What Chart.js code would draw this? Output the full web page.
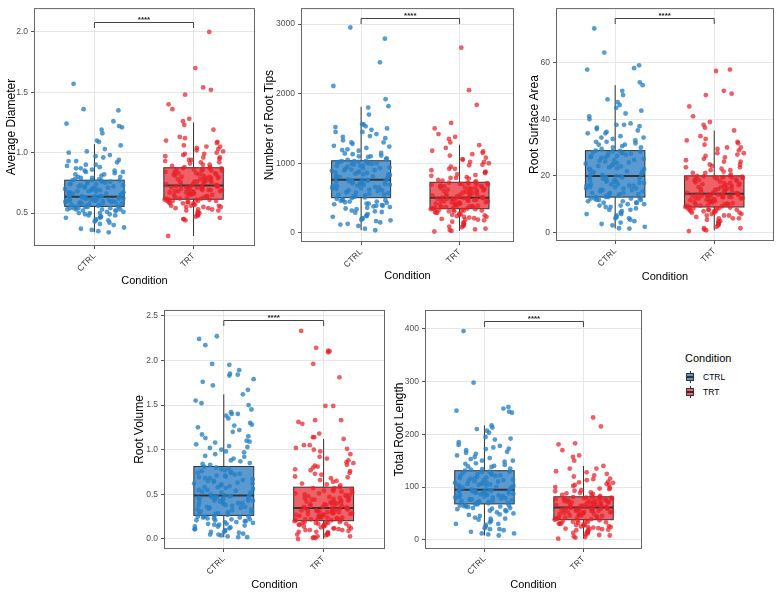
<!DOCTYPE html>
<html>
<head>
<meta charset="utf-8">
<script src="https://cdn.jsdelivr.net/npm/chart.js@4.4.0/dist/chart.umd.min.js"></script>
<style>
  body { margin: 0; background: #fff; width: 779px; height: 598px; position: relative; overflow: hidden;
         font-family: 'Liberation Sans', Arial, sans-serif; }
  canvas { position: absolute; }
  #legend { position: absolute; left: 684px; top: 350px; width: 90px; height: 60px; }
  #legend .ltitle { position: absolute; left: 1px; top: 0; font-size: 11px; line-height: 16px; color: #000; }
  #legend .row { position: absolute; left: 2px; height: 12px; font-size: 8.5px; line-height: 12px; color: #000; }
  #legend .row span.txt { position: absolute; left: 17px; top: 0; white-space: nowrap; }
  .key { position: absolute; left: 0; top: 0; width: 8px; height: 12px; }
  .key .w { position: absolute; left: 3.5px; top: 0; width: 1px; height: 12px; background: #333; }
  .key .b { position: absolute; left: 0; top: 2px; width: 6px; height: 6px; border: 1px solid #333; }
  .key .m { position: absolute; left: 0; top: 5px; width: 8px; height: 1.5px; background: #333; }
</style>
</head>
<body>
<canvas id="p1"></canvas>
<canvas id="p2"></canvas>
<canvas id="p3"></canvas>
<canvas id="p4"></canvas>
<canvas id="p5"></canvas>
<div id="legend">
  <div class="ltitle">Condition</div>
  <div class="row" style="top:21px"><div class="key"><div class="w"></div><div class="b" style="background:#5b9ad0"></div><div class="m"></div></div><span class="txt">CTRL</span></div>
  <div class="row" style="top:36px"><div class="key"><div class="w"></div><div class="b" style="background:#ef6167"></div><div class="m"></div></div><span class="txt">TRT</span></div>
</div>
<script>
// Groups
const CATEGORIES = ['CTRL', 'TRT'];

// Average Diameter
const avgDiamCtrl = [0.34,0.35,0.36,0.37,0.40,0.42,0.43,0.44,0.45,0.46,0.46,0.47,0.48,0.48,0.49,0.50,0.50,0.51,0.51,0.52,0.52,0.53,0.53,0.53,0.54,0.54,0.54,0.55,0.55,0.55,
  0.56,0.56,0.57,0.57,0.57,0.58,0.58,0.58,0.59,0.59,0.59,0.60,0.60,0.60,0.60,0.61,0.61,0.61,0.62,0.62,0.62,0.62,0.63,0.63,0.63,0.63,0.63,0.64,0.64,0.64,
  0.64,0.65,0.65,0.66,0.66,0.67,0.67,0.68,0.68,0.69,0.69,0.70,0.70,0.71,0.71,0.72,0.72,0.73,0.73,0.74,0.74,0.75,0.75,0.76,0.76,0.77,0.77,0.77,0.78,0.78,
  0.79,0.80,0.81,0.82,0.83,0.84,0.85,0.86,0.87,0.88,0.89,0.90,0.92,0.93,0.94,0.96,0.98,1.00,1.03,1.06,
  1.09,1.10,1.16,1.19,1.21,1.22,1.24,1.26,1.35,1.36,1.57,
  0.38,0.41,0.44,0.47,0.49,0.50,0.52,0.53,0.54,0.55,0.56,0.57,0.58,0.59,0.60,0.61,0.62,0.62,0.63,0.64,
  0.65,0.66,0.67,0.68,0.70,0.71,0.72,0.74,0.75,0.77,0.79,0.80,0.82,0.84,0.85,0.87,0.90,0.93,0.97,1.01];
const avgDiamTrt = [0.31,0.44,0.45,0.46,0.47,0.48,0.49,0.50,0.51,0.52,0.52,0.53,0.54,0.54,0.55,0.55,0.56,0.56,0.57,0.57,0.58,0.58,0.59,0.59,0.60,0.60,0.60,0.61,0.61,0.61,
  0.62,0.62,0.63,0.63,0.64,0.64,0.65,0.65,0.66,0.66,0.66,0.67,0.67,0.68,0.68,0.68,0.69,0.69,0.69,0.70,0.70,0.70,0.71,0.71,0.71,0.72,0.72,0.72,0.72,0.73,
  0.73,0.74,0.74,0.75,0.75,0.76,0.76,0.77,0.77,0.78,0.78,0.79,0.79,0.80,0.80,0.81,0.81,0.82,0.82,0.83,0.83,0.84,0.84,0.85,0.85,0.86,0.86,0.87,0.87,0.87,
  0.88,0.89,0.90,0.91,0.92,0.93,0.94,0.95,0.96,0.97,0.98,0.99,1.00,1.01,1.03,1.04,1.05,1.06,1.08,1.10,1.13,1.19,1.23,
  1.26,1.28,1.36,1.40,1.48,1.52,1.54,1.70,2.00,
  0.45,0.48,0.50,0.53,0.55,0.56,0.58,0.59,0.60,0.61,0.62,0.63,0.65,0.66,0.67,0.68,0.69,0.70,0.71,0.72,
  0.74,0.75,0.76,0.78,0.79,0.80,0.82,0.83,0.85,0.86,0.88,0.90,0.92,0.94,0.96,0.99,1.02,1.05,1.09,1.12];
// [lower whisker, Q1, median, Q3, upper whisker]
const avgDiamStats = [[0.34, 0.555, 0.635, 0.772, 1.07], [0.31, 0.614, 0.727, 0.875, 1.25]];
const avgDiamTicks = [0.5, 1.0, 1.5, 2.0];
const avgDiamTickLabels = ['0.5', '1.0', '1.5', '2.0'];
const avgDiamRange = [0.227, 2.197];
const avgDiamBracket = 2.083;

// Number of Root Tips
const tipsCtrl = [38,60,100,130,150,170,190,200,210,230,250,270,290,300,320,340,350,370,380,390,400,410,420,430,440,450,460,470,480,500,
  510,520,530,540,550,560,570,580,590,600,610,620,630,640,650,660,670,680,690,700,700,710,720,730,740,740,750,750,760,760,
  770,780,790,800,810,820,830,840,850,860,870,880,890,900,910,920,930,940,950,960,970,980,990,1000,1000,1010,1020,1020,1030,1030,
  1050,1070,1090,1100,1110,1130,1150,1180,1200,1220,1250,1280,1300,1330,1360,1390,1420,1450,1480,1500,1530,1560,1700,1800,
  1820,1920,2110,2450,2790,2950,
  120,180,240,310,360,390,420,450,470,490,520,550,580,610,640,670,690,710,730,750,
  780,810,840,870,900,930,960,990,1010,1030,1060,1100,1140,1190,1240,1300,1380,1450,1520,1560];
const tipsTrt = [20,28,40,60,80,100,110,130,150,160,180,190,200,210,220,230,240,250,260,270,280,290,300,310,320,320,330,330,340,340,
  350,355,360,370,375,380,390,395,400,410,415,420,430,435,440,450,455,460,470,475,480,485,490,490,495,500,500,505,505,506,
  510,520,530,540,545,550,560,570,580,590,600,605,610,620,630,640,645,650,660,670,675,680,690,695,700,705,710,715,720,725,
  740,760,780,790,800,820,840,860,880,900,920,950,980,1000,1020,1050,1080,1110,1150,1180,1220,1260,
  1300,1350,1380,1420,1500,1580,1840,2050,2660,
  50,90,140,190,230,260,290,310,330,345,355,370,385,400,420,440,460,475,490,500,
  520,540,560,580,600,630,650,670,700,720,750,790,830,870,920,970,1020,1060,1130,1170];
const tipsStats = [[38, 506, 765, 1036, 1810], [28, 347, 506, 727, 1266]];
const tipsTicks = [0, 1000, 2000, 3000];
const tipsTickLabels = ['0', '1000', '2000', '3000'];
const tipsRange = [-131, 3229];
const tipsBracket = 3080;

// Root Surface Area
const areaCtrl = [1.4,1.5,2.5,3,4,4.5,5,5.5,6,6.5,7,7.5,8,8.5,9,9,9.5,10,10,10.5,10.5,11,11,11.5,11.5,12,12,12,12.5,12.5,
  13,13,13.5,13.5,14,14,14.5,14.5,15,15,15.5,15.5,16,16,16.5,16.5,17,17,17.5,17.5,18,18,18.5,18.5,19,19,19.5,19.5,19.8,19.9,
  20.2,20.5,21,21.3,21.6,22,22.4,22.7,23,23.3,23.7,24,24.3,24.7,25,25.3,25.6,26,26.3,26.6,27,27.2,27.5,27.8,28,28.2,28.4,28.6,28.8,28.9,
  29.5,30,30.5,31,31.5,32,32.5,33,33.5,34,35,35.5,36,37,37.5,38,38.5,40,42,43,45,46,48.5,50,52,
  53,57.5,58,59,63.5,72,
  2,3.5,5,6.5,8,9.5,10.5,11.5,12,12.5,13.5,14,15,15.5,16.5,17,18,18.5,19,19.5,
  20.5,21.5,22.5,23.5,24.5,25.5,26.5,27,28,28.5,30,31,32,33.5,35,36.5,38,41,44,47];
const areaTrt = [0.5,0.8,1,1.5,2,2.5,3,3.5,4,4.5,5,5,5.5,6,6,6.5,6.5,7,7,7.5,7.5,7.5,8,8,8,8.5,8.5,8.5,8.8,9,
  9.2,9.4,9.6,9.8,10,10.2,10.4,10.6,10.8,11,11.2,11.4,11.6,11.8,12,12,12.2,12.4,12.6,12.6,12.8,12.8,13,13,13.2,13.2,13.4,13.4,13.6,13.7,
  13.9,14.1,14.3,14.5,14.8,15,15.2,15.5,15.7,16,16.2,16.5,16.7,17,17.2,17.5,17.7,18,18.2,18.5,18.7,19,19.1,19.3,19.4,19.5,19.6,19.7,19.8,19.9,
  20.5,21,21.5,22,22.5,23,23.5,24,25,25.5,26,27,27.5,28,29,29.5,30,31,32,32.5,34,36,
  37,38,39,41,44.5,48.5,49,50,57,57.5,
  1.5,3,4,5,6,7,7.5,8,8.5,9,9.5,10,10.5,11,11.5,12,12.5,13,13.3,13.6,
  14,14.6,15.3,16,16.8,17.5,18.3,19,19.5,20,21,22,23,24,25,26.5,28,30,31.5,33];
const areaStats = [[1.4, 12.5, 19.9, 28.9, 52], [0.8, 9.0, 13.7, 20.0, 36]];
const areaTicks = [0, 20, 40, 60];
const areaTickLabels = ['0', '20', '40', '60'];
const areaRange = [-3.0, 79.2];
const areaBracket = 75.7;

// Root Volume
const volCtrl = [0.02,0.03,0.04,0.05,0.06,0.07,0.08,0.09,0.10,0.11,0.12,0.13,0.14,0.15,0.16,0.16,0.17,0.18,0.19,0.20,0.20,0.21,0.22,0.22,0.23,0.24,0.24,0.25,0.25,0.26,
  0.27,0.28,0.29,0.30,0.31,0.32,0.33,0.34,0.35,0.35,0.36,0.37,0.38,0.39,0.40,0.40,0.41,0.42,0.43,0.43,0.44,0.45,0.45,0.46,0.46,0.47,0.47,0.48,0.48,0.49,
  0.50,0.51,0.52,0.53,0.54,0.55,0.56,0.57,0.58,0.59,0.60,0.61,0.62,0.63,0.64,0.65,0.66,0.67,0.68,0.69,0.70,0.71,0.72,0.73,0.74,0.75,0.76,0.78,0.79,0.81,
  0.83,0.85,0.88,0.90,0.92,0.95,0.97,1.00,1.02,1.04,1.06,1.08,1.10,1.13,1.15,1.20,1.22,1.25,1.27,1.30,1.35,1.38,1.40,1.42,1.45,1.50,1.55,1.62,
  1.67,1.72,1.76,1.79,1.83,1.84,1.85,1.89,1.95,1.96,2.17,2.24,2.27,
  0.02,0.05,0.08,0.11,0.14,0.17,0.19,0.21,0.23,0.25,0.28,0.30,0.33,0.36,0.38,0.41,0.43,0.45,0.47,0.48,
  0.52,0.55,0.58,0.62,0.65,0.68,0.71,0.74,0.77,0.80,0.84,0.87,0.93,0.98,1.03,1.09,1.17,1.28,1.40,1.52];
const volTrt = [0.00,0.01,0.02,0.03,0.04,0.05,0.06,0.07,0.07,0.08,0.09,0.10,0.10,0.11,0.12,0.12,0.13,0.14,0.14,0.15,0.15,0.16,0.16,0.17,0.17,0.18,0.18,0.19,0.19,0.20,
  0.21,0.21,0.22,0.22,0.23,0.23,0.24,0.24,0.25,0.25,0.26,0.26,0.27,0.27,0.28,0.28,0.29,0.29,0.30,0.30,0.31,0.31,0.32,0.32,0.33,0.33,0.34,0.34,0.34,0.35,
  0.35,0.36,0.37,0.37,0.38,0.39,0.39,0.40,0.41,0.41,0.42,0.43,0.43,0.44,0.45,0.45,0.46,0.47,0.48,0.48,0.49,0.50,0.51,0.52,0.53,0.54,0.55,0.56,0.57,0.58,
  0.60,0.62,0.64,0.66,0.68,0.70,0.72,0.74,0.76,0.78,0.80,0.82,0.83,0.85,0.88,0.90,0.95,1.00,1.01,1.02,1.05,1.12,
  1.14,1.14,1.18,1.29,1.31,1.33,1.33,1.49,1.49,1.81,1.96,2.09,2.10,2.11,2.14,2.33,
  0.01,0.03,0.05,0.08,0.10,0.12,0.14,0.16,0.18,0.19,0.21,0.22,0.24,0.26,0.27,0.29,0.30,0.32,0.33,0.34,
  0.36,0.38,0.40,0.42,0.44,0.46,0.49,0.51,0.54,0.57,0.61,0.65,0.69,0.73,0.77,0.81,0.86,0.92,0.98,1.05];
const volStats = [[0.02, 0.264, 0.488, 0.812, 1.62], [0.0, 0.205, 0.347, 0.58, 1.12]];
const volTicks = [0.0, 0.5, 1.0, 1.5, 2.0, 2.5];
const volTickLabels = ['0.0', '0.5', '1.0', '1.5', '2.0', '2.5'];
const volRange = [-0.112, 2.564];
const volBracket = 2.452;

// Total Root Length
const lengthCtrl = [8,10,12,15,18,20,22,25,28,30,33,36,38,40,42,45,47,50,52,54,56,58,59,60,62,63,64,65,66,67,
  69,70,71,72,73,74,75,76,77,78,79,80,81,82,83,84,85,86,87,88,89,90,90,91,92,92,93,93,94,95,
  96,97,98,99,100,101,102,103,104,105,106,107,108,110,111,112,113,114,116,117,118,120,121,122,124,125,126,128,129,131,
  133,135,138,140,142,145,148,150,153,155,160,163,167,170,173,175,178,185,190,192,203,207,213,217,
  241,243,245,249,252,298,396,
  12,20,30,40,48,55,60,63,65,67,70,73,76,79,82,85,87,89,91,93,
  97,100,103,106,109,113,117,121,125,129,134,139,144,150,157,165,172,180,195,210];
const lengthTrt = [2,4,6,8,10,12,14,15,16,18,19,20,21,22,23,24,25,26,27,28,29,30,31,32,33,34,35,36,37,38,
  39,40,41,42,43,44,45,46,47,47,48,49,50,51,52,52,53,54,55,55,56,57,57,58,58,59,59,60,60,61,
  62,63,63,64,65,65,66,67,67,68,69,70,70,71,72,72,73,74,75,75,76,77,77,78,79,79,80,80,81,81,
  83,85,87,89,90,92,94,96,98,100,102,104,106,108,110,113,116,120,125,130,135,140,
  150,157,160,170,181,183,215,232,
  5,9,13,17,20,24,28,31,34,37,40,43,46,49,51,53,55,57,59,60,
  62,64,66,68,70,72,74,76,78,80,84,88,93,97,103,109,115,122,128,135];
const lengthStats = [[8, 68, 95, 131, 217], [2, 38, 61, 81.5, 140]];
const lengthTicks = [0, 100, 200, 300, 400];
const lengthTickLabels = ['0', '100', '200', '300', '400'];
const lengthRange = [-17.6, 436];
const lengthBracket = 415;

// Styles
const FONT = "'Liberation Sans', Arial, sans-serif";
const POINT_COLORS = ['rgba(38,128,196,0.78)', 'rgba(232,32,40,0.72)'];
const BOX_COLORS = ['#5b9ad0', '#ef6167'];
const GRID = '#e6e6e6';
const BOX_HALF = 0.3;
const JITTER = 0.3;

// Deterministic horizontal spread for the jittered points
function jitter(i, g) {
    const s = Math.sin((i + 1) * 12.9898 + (g + 1) * 78.233) * 43758.5453;
    const f = s - Math.floor(s);
    return (f - 0.5) * 2 * JITTER;
}

// Box, whiskers, panel border and significance bracket
function makeBoxPlugin(stats, bracketY) {
    return {
        id: 'boxes',
        beforeDatasetsDraw(chart) {
            const { ctx, scales: { x, y } } = chart;
            stats.forEach((s, g) => {
                const cx = x.getPixelForValue(g + 1);
                const l = x.getPixelForValue(g + 1 - BOX_HALF);
                const r = x.getPixelForValue(g + 1 + BOX_HALF);
                const [lo, q1, md, q3, hi] = s.map(v => y.getPixelForValue(v));
                ctx.save();
                ctx.strokeStyle = '#333';
                ctx.lineWidth = 1;
                ctx.beginPath();
                ctx.moveTo(cx, hi); ctx.lineTo(cx, q3);
                ctx.moveTo(cx, q1); ctx.lineTo(cx, lo);
                ctx.stroke();
                ctx.fillStyle = BOX_COLORS[g];
                ctx.fillRect(l, q3, r - l, q1 - q3);
                ctx.strokeRect(l, q3, r - l, q1 - q3);
                ctx.lineWidth = 2;
                ctx.beginPath();
                ctx.moveTo(l, md); ctx.lineTo(r, md);
                ctx.stroke();
                ctx.restore();
            });
        },
        afterDraw(chart) {
            const { ctx, chartArea: a, scales: { x, y } } = chart;
            ctx.save();
            ctx.strokeStyle = '#666';
            ctx.lineWidth = 1;
            ctx.strokeRect(a.left + 0.5, a.top + 0.5, a.right - a.left - 1, a.bottom - a.top - 1);
            const by = Math.round(y.getPixelForValue(bracketY)) + 0.5;
            const x1 = x.getPixelForValue(1), x2 = x.getPixelForValue(2);
            ctx.strokeStyle = '#444';
            ctx.beginPath();
            ctx.moveTo(x1, by + 5.5); ctx.lineTo(x1, by); ctx.lineTo(x2, by); ctx.lineTo(x2, by + 5.5);
            ctx.stroke();
            ctx.fillStyle = '#222';
            ctx.font = 'bold 8px ' + FONT;
            ctx.textAlign = 'center';
            ctx.textBaseline = 'alphabetic';
            ctx.fillText('****', (x1 + x2) / 2, by - 1);
            ctx.restore();
        }
    };
}

// Page placement of each panel (plot area edges in page pixels)
const panels = [
    { id: 'p1', title: 'Average Diameter', ctrl: avgDiamCtrl, trt: avgDiamTrt, stats: avgDiamStats, ticks: avgDiamTicks, labels: avgDiamTickLabels, range: avgDiamRange, bracket: avgDiamBracket,
      left: 34, right: 257, top: 3, bottom: 246, titleX: 11.5, condY: 281.7, canvasTop: 0, xMin: 0.39, xMax: 2.62 },
    { id: 'p2', title: 'Number of Root Tips', ctrl: tipsCtrl, trt: tipsTrt, stats: tipsStats, ticks: tipsTicks, labels: tipsTickLabels, range: tipsRange, bracket: tipsBracket,
      left: 301, right: 516, top: 3, bottom: 242, titleX: 268.8, condY: 276.7, canvasTop: 0, xMin: 0.389, xMax: 2.554 },
    { id: 'p3', title: 'Root Surface Area', ctrl: areaCtrl, trt: areaTrt, stats: areaStats, ticks: areaTicks, labels: areaTickLabels, range: areaRange, bracket: areaBracket,
      left: 556, right: 776, top: 3, bottom: 241, titleX: 534.2, condY: 277, canvasTop: 0, xMin: 0.403, xMax: 2.603 },
    { id: 'p4', title: 'Root Volume', ctrl: volCtrl, trt: volTrt, stats: volStats, ticks: volTicks, labels: volTickLabels, range: volRange, bracket: volBracket,
      left: 164, right: 387, top: 310, bottom: 549, titleX: 139.5, condY: 585, canvasTop: 298, xMin: 0.401, xMax: 2.615 },
    { id: 'p5', title: 'Total Root Length', ctrl: lengthCtrl, trt: lengthTrt, stats: lengthStats, ticks: lengthTicks, labels: lengthTickLabels, range: lengthRange, bracket: lengthBracket,
      left: 425, right: 644, top: 310, bottom: 549, titleX: 398.8, condY: 585, canvasTop: 298, xMin: 0.4, xMax: 2.59 }
];

function makePanel(p) {
    const canvas = document.getElementById(p.id);
    const cx = Math.round(p.titleX - 12 * 1.2 / 2);
    const w = p.right + 2 - cx;
    const h = Math.round(p.condY + 11 * 1.2 / 2 - p.canvasTop);
    canvas.style.left = cx + 'px';
    canvas.style.top = p.canvasTop + 'px';
    canvas.width = w;
    canvas.height = h;
    const yW = p.left - cx;
    const xH = p.canvasTop + h - p.bottom;

    const series = [p.ctrl, p.trt];
    return new Chart(canvas.getContext('2d'), {
        type: 'scatter',
        data: {
            datasets: series.map((vals, g) => ({
                label: CATEGORIES[g],
                data: vals.map((v, i) => ({ x: g + 1 + jitter(i, g), y: v })),
                pointRadius: 2.4,
                pointBorderWidth: 0,
                pointBackgroundColor: POINT_COLORS[g]
            }))
        },
        plugins: [makeBoxPlugin(p.stats, p.bracket)],
        options: {
            responsive: false,
            animation: false,
            layout: { padding: { top: p.top - p.canvasTop, right: 2, left: 0, bottom: 0 } },
            plugins: { legend: { display: false }, tooltip: { enabled: false } },
            scales: {
                x: {
                    type: 'linear', min: p.xMin, max: p.xMax, bounds: 'data',
                    afterBuildTicks: s => { s.ticks = [1, 2].map(v => ({ value: v })); },
                    afterFit: s => { s.height = xH; },
                    ticks: {
                        autoSkip: false, minRotation: 45, maxRotation: 45, padding: 2,
                        color: '#333', font: { family: FONT, size: 8.5 },
                        callback: v => CATEGORIES[Math.round(v) - 1]
                    },
                    grid: { color: GRID, tickColor: '#555', tickLength: 3 },
                    border: { display: false },
                    title: { display: true, text: 'Condition', color: '#000', padding: 0, font: { family: FONT, size: 11 } }
                },
                y: {
                    type: 'linear', min: p.range[0], max: p.range[1], bounds: 'data',
                    afterBuildTicks: s => { s.ticks = p.ticks.map(v => ({ value: v })); },
                    afterFit: s => { s.width = yW; },
                    ticks: {
                        padding: 3, color: '#4d4d4d', font: { family: FONT, size: 8.5 },
                        callback: (v, i) => p.labels[i]
                    },
                    grid: { color: GRID, tickColor: '#555', tickLength: 3 },
                    border: { display: false },
                    title: { display: true, text: p.title, color: '#000', padding: 0, font: { family: FONT, size: 12 } }
                }
            }
        }
    });
}

document.addEventListener('DOMContentLoaded', () => {
    panels.forEach(makePanel);
});
</script>
</body>
</html>
